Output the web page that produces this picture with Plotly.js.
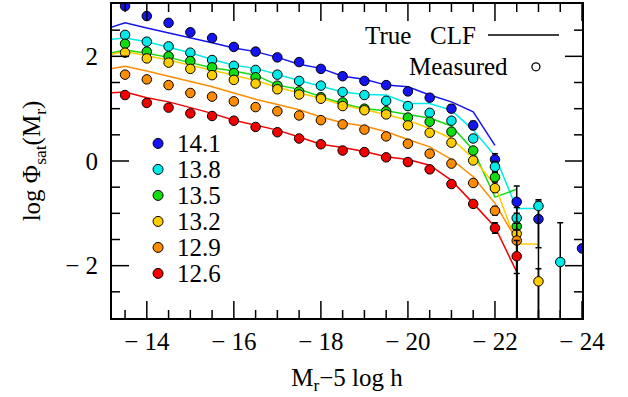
<!DOCTYPE html>
<html>
<head>
<meta charset="utf-8">
<script src="https://cdn.plot.ly/plotly-3.0.1.min.js"></script>
<style>
  html, body { margin: 0; padding: 0; background: #fff; }
  #plot { width: 628px; height: 397px; }
</style>
</head>
<body>
<div id="plot"></div>
<script>
// Absolute magnitude bins of the measured satellite luminosity functions
const magMeasured = [-13.5, -14, -14.5, -15, -15.5, -16, -16.5, -17, -17.5, -18, -18.5,
                     -19, -19.5, -20, -20.5, -21, -21.5, -22, -22.5, -23, -23.5, -24];
// Magnitude grid of the true conditional luminosity functions
const magTrue = [-13, -13.5, -14, -14.5, -15, -15.5, -16, -16.5, -17, -17.5, -18,
                 -18.5, -19, -19.5, -20, -20.5, -21, -21.5, -22, -22.5, -23];

// Host halo masses (log M) and their colours
const haloMass = ['14.1', '13.8', '13.5', '13.2', '12.9', '12.6'];
const haloColor = ['#1414f0', '#00eaea', '#12dc12', '#ffcc00', '#ff8c00', '#f20000'];

// Measured log Phi_sat per halo mass
const meas141 = [2.96, 2.77, 2.64, 2.46, 2.35, 2.18, 2.09, 1.98, 1.89, 1.76, 1.62,
                 1.53, 1.45, 1.33, 1.21, 1.00, 0.68, 0.03, -0.78, -1.11, null, -1.67];
const meas138 = [2.41, 2.28, 2.19, 2.07, 1.93, 1.82, 1.74, 1.65, 1.53, 1.44, 1.32,
                 1.26, 1.15, 1.05, 0.92, 0.77, 0.43, -0.11, -1.09, -0.86, -1.93, null];
const meas135 = [2.24, 2.09, 2.00, 1.91, 1.79, 1.68, 1.60, 1.44, 1.33, 1.22, 1.12,
                 1.00, 0.95, 0.83, 0.75, 0.56, 0.20, -0.31, -1.25, null, null, null];
const meas132 = [2.07, 1.96, 1.88, 1.76, 1.64, 1.55, 1.48, 1.37, 1.27, 1.19, 1.05,
                 0.97, 0.89, 0.68, 0.54, 0.35, 0.01, -0.52, -1.39, -2.30, null, null];
const meas129 = [1.65, 1.56, 1.45, 1.30, 1.23, 1.14, 1.03, 0.95, 0.87, 0.78, 0.70,
                 0.60, 0.47, 0.33, 0.14, -0.05, -0.42, -0.95, -1.52, null, null, null];
const meas126 = [1.26, 1.11, 1.02, 0.91, 0.86, 0.77, 0.65, 0.55, 0.43, 0.32, 0.20,
                 0.17, 0.07, -0.02, -0.16, -0.44, -0.82, -1.28, -1.82, null, null, null];

// Upper / lower errors of the measurements (large lower errors run off the axis)
const errUp141 = [0.06, 0.06, 0.06, 0.06, 0.06, 0.06, 0.06, 0.06, 0.06, 0.06, 0.06,
                  0.06, 0.06, 0.06, 0.06, 0.07, 0.08, 0.11, 0.30, 0.34, null, 0];
const errDn141 = [0.06, 0.06, 0.06, 0.06, 0.06, 0.06, 0.06, 0.06, 0.06, 0.06, 0.06,
                  0.06, 0.06, 0.06, 0.06, 0.07, 0.08, 0.11, 3.0, 3.0, null, 0];
const errUp138 = [0.05, 0.05, 0.05, 0.05, 0.05, 0.05, 0.05, 0.05, 0.05, 0.05, 0.05,
                  0.05, 0.05, 0.05, 0.05, 0.05, 0.06, 0.10, 0.20, 0.12, 0.75, null];
const errDn138 = [0.05, 0.05, 0.05, 0.05, 0.05, 0.05, 0.05, 0.05, 0.05, 0.05, 0.05,
                  0.05, 0.05, 0.05, 0.05, 0.05, 0.06, 0.10, 3.0, 0.80, 3.0, null];
const errUp135 = [0.04, 0.04, 0.04, 0.04, 0.04, 0.04, 0.04, 0.04, 0.04, 0.04, 0.04,
                  0.04, 0.04, 0.04, 0.04, 0.04, 0.05, 0.09, 0.25, null, null, null];
const errDn135 = [0.04, 0.04, 0.04, 0.04, 0.04, 0.04, 0.04, 0.04, 0.04, 0.04, 0.04,
                  0.04, 0.04, 0.04, 0.04, 0.04, 0.05, 0.09, 3.0, null, null, null];
const errUp132 = [0.04, 0.04, 0.04, 0.04, 0.04, 0.04, 0.04, 0.04, 0.04, 0.04, 0.04,
                  0.04, 0.04, 0.04, 0.04, 0.04, 0.05, 0.07, 0.20, 0.24, null, null];
const errDn132 = [0.04, 0.04, 0.04, 0.04, 0.04, 0.04, 0.04, 0.04, 0.04, 0.04, 0.04,
                  0.04, 0.04, 0.04, 0.04, 0.04, 0.05, 0.07, 3.0, 3.0, null, null];
const errUp129 = [0.04, 0.04, 0.04, 0.04, 0.04, 0.04, 0.04, 0.04, 0.04, 0.04, 0.04,
                  0.04, 0.04, 0.04, 0.04, 0.04, 0.05, 0.08, 0.20, null, null, null];
const errDn129 = [0.04, 0.04, 0.04, 0.04, 0.04, 0.04, 0.04, 0.04, 0.04, 0.04, 0.04,
                  0.04, 0.04, 0.04, 0.04, 0.04, 0.05, 0.08, 3.0, null, null, null];
const errUp126 = [0.04, 0.04, 0.04, 0.04, 0.04, 0.04, 0.04, 0.04, 0.04, 0.04, 0.04,
                  0.04, 0.04, 0.04, 0.04, 0.04, 0.05, 0.10, 0.30, null, null, null];
const errDn126 = [0.04, 0.04, 0.04, 0.04, 0.04, 0.04, 0.04, 0.04, 0.04, 0.04, 0.04,
                  0.04, 0.04, 0.04, 0.04, 0.04, 0.05, 0.10, 0.33, null, null, null];

// True CLF per halo mass
const true141 = [2.51, 2.64, 2.54, 2.45, 2.35, 2.26, 2.16, 2.09, 1.98, 1.85, 1.77,
                 1.62, 1.56, 1.45, 1.42, 1.26, 1.13, 0.94, 0.30, null, null];
const true138 = [2.31, 2.35, 2.28, 2.18, 2.07, 1.94, 1.83, 1.77, 1.65, 1.54, 1.43,
                 1.32, 1.27, 1.26, 1.10, 1.10, 0.97, 0.59, 0.10, -0.91, -0.91];
const true135 = [2.03, 2.12, 2.06, 1.98, 1.88, 1.78, 1.72, 1.64, 1.45, 1.37, 1.23,
                 1.10, 1.00, 0.96, 0.89, 0.82, 0.67, 0.21, -0.69, -0.54, null];
const true132 = [2.01, 2.09, 2.01, 1.93, 1.83, 1.74, 1.64, 1.54, 1.41, 1.30, 1.20,
                 1.07, 0.98, 0.89, 0.78, 0.62, 0.43, 0.05, -0.46, -1.58, -1.59];
const true129 = [1.74, 1.81, 1.72, 1.62, 1.51, 1.42, 1.30, 1.18, 1.08, 0.98, 0.84,
                 0.73, 0.67, 0.56, 0.41, 0.27, 0.03, -0.30, -0.81, -1.51, null];
const true126 = [1.29, 1.32, 1.21, 1.13, 1.02, 0.91, 0.78, 0.68, 0.59, 0.46, 0.32,
                 0.26, 0.18, 0.08, 0.03, -0.08, -0.37, -0.81, -1.26, -2.12, null];

// Axis ticks: labelled major ticks and unlabelled minor ticks
const xTickVals = [-14, -16, -18, -20, -22, -24];
const xTickText = ['\u2212 14', '\u2212 16', '\u2212 18', '\u2212 20', '\u2212 22', '\u2212 24'];
const xMinorVals = [-13.5, -14.5, -15, -15.5, -16.5, -17, -17.5, -18.5, -19, -19.5,
                    -20.5, -21, -21.5, -22.5, -23, -23.5];
const yTickVals = [-2, 0, 2];
const yTickText = ['\u2212 2', '0', '2'];
const yMinorVals = [-2.5, -1.5, -1, -0.5, 0.5, 1, 1.5, 2.5];
const xRange = [-13.2, -24];
const yRange = [-3, 3];

const measured = [meas141, meas138, meas135, meas132, meas129, meas126];
const errUp = [errUp141, errUp138, errUp135, errUp132, errUp129, errUp126];
const errDn = [errDn141, errDn138, errDn135, errDn132, errDn129, errDn126];
const trueClf = [true141, true138, true135, true132, true129, true126];

const FONT = 'Liberation Serif, Times New Roman, serif';
const W = 628, H = 397;
const M = {l: 112, r: 46, t: 4, b: 79};
const MAJOR_LEN = 17, MINOR_LEN = 8;          // tick lengths in pixels
// pixel lengths converted to axis units
const pxPerMag = (W - M.l - M.r) / Math.abs(xRange[1] - xRange[0]);
const pxPerDex = (H - M.t - M.b) / Math.abs(yRange[1] - yRange[0]);
const xDir = Math.sign(xRange[1] - xRange[0]);

const traces = [];

// Model curves first, measurements on top
trueClf.forEach((ys, i) => {
  traces.push({
    x: magTrue, y: ys, type: 'scatter', mode: 'lines',
    line: {color: haloColor[i], width: 1.5},
    connectgaps: false, hoverinfo: 'skip', showlegend: false
  });
});
measured.forEach((ys, i) => {
  traces.push({
    x: magMeasured, y: ys, type: 'scatter', mode: 'markers',
    marker: {color: haloColor[i], size: 9.5, line: {color: '#000', width: 1}},
    error_y: {type: 'data', symmetric: false, array: errUp[i], arrayminus: errDn[i],
              color: '#000', thickness: 1.5, width: 3},
    name: haloMass[i], showlegend: false
  });
});

// Inward frame ticks on all four sides, built from the tick value lists
function frameTicks(xVals, yVals, lenPx) {
  const tx = [], ty = [];
  const dy = lenPx / pxPerDex, dx = xDir * lenPx / pxPerMag;
  xVals.forEach(v => {
    tx.push(v, v, null, v, v, null);
    ty.push(yRange[0], yRange[0] + dy, null, yRange[1], yRange[1] - dy, null);
  });
  yVals.forEach(v => {
    tx.push(xRange[0], xRange[0] + dx, null, xRange[1], xRange[1] - dx, null);
    ty.push(v, v, null, v, v, null);
  });
  return {x: tx, y: ty, type: 'scatter', mode: 'lines', line: {color: '#000', width: 1.5},
          hoverinfo: 'skip', showlegend: false, connectgaps: false};
}
traces.push(frameTicks(xTickVals, yTickVals, MAJOR_LEN));
traces.push(frameTicks(xMinorVals, yMinorVals, MINOR_LEN));

// Halo-mass key (lower left) and curve/measurement key (upper right)
const shapes = [];
const annotations = [];
haloMass.forEach((m, i) => {
  const yp = 0.556 - i * 0.0828;
  shapes.push({type: 'circle', xref: 'paper', yref: 'paper',
               xsizemode: 'pixel', ysizemode: 'pixel',
               xanchor: 0.098, yanchor: yp, x0: -5, x1: 5, y0: -5, y1: 5,
               fillcolor: haloColor[i], line: {color: '#000', width: 1}});
  annotations.push({xref: 'paper', yref: 'paper', x: 0.134, y: yp,
                    xanchor: 'left', yanchor: 'middle', showarrow: false,
                    text: m, font: {family: FONT, size: 25, color: '#000'}});
});
annotations.push({xref: 'paper', yref: 'paper', x: 0.535, y: 0.901,
                  xanchor: 'left', yanchor: 'middle', showarrow: false,
                  text: 'True\u2002 CLF', font: {family: FONT, size: 25, color: '#000'}});
shapes.push({type: 'line', xref: 'paper', yref: 'paper',
             x0: 0.800, x1: 0.951, y0: 0.901, y1: 0.901,
             line: {color: '#000', width: 1.5}});
annotations.push({xref: 'paper', yref: 'paper', x: 0.846, y: 0.80,
                  xanchor: 'right', yanchor: 'middle', showarrow: false,
                  text: 'Measured', font: {family: FONT, size: 25, color: '#000'}});
shapes.push({type: 'circle', xref: 'paper', yref: 'paper',
             xsizemode: 'pixel', ysizemode: 'pixel',
             xanchor: 0.902, yanchor: 0.80, x0: -4, x1: 4, y0: -4, y1: 4,
             line: {color: '#000', width: 1.3}});

const axisCommon = {
  showline: true, linewidth: 2, linecolor: '#000', mirror: true,
  showgrid: false, zeroline: false,
  ticks: '', tickmode: 'array',
  tickfont: {family: FONT, size: 25, color: '#000'}
};

const layout = {
  width: W, height: H,
  margin: {l: M.l, r: M.r, t: M.t, b: M.b, pad: 0},
  paper_bgcolor: '#fff', plot_bgcolor: '#fff',
  font: {family: FONT, size: 25, color: '#000'},
  xaxis: Object.assign({}, axisCommon, {
    range: xRange, tickvals: xTickVals, ticktext: xTickText,
    ticklabelstandoff: 0,
    title: {text: 'M<sub>r</sub>\u22125 log h', font: {family: FONT, size: 25}, standoff: 14}
  }),
  yaxis: Object.assign({}, axisCommon, {
    range: yRange, tickvals: yTickVals, ticktext: yTickText,
    ticklabelstandoff: 7,
    title: {text: 'log \u03a6<sub>sat</sub>(M<sub>r</sub>)', font: {family: FONT, size: 25}, standoff: 17}
  }),
  shapes: shapes,
  annotations: annotations,
  showlegend: false
};

Plotly.newPlot('plot', traces, layout, {staticPlot: true, displayModeBar: false});
</script>
</body>
</html>
